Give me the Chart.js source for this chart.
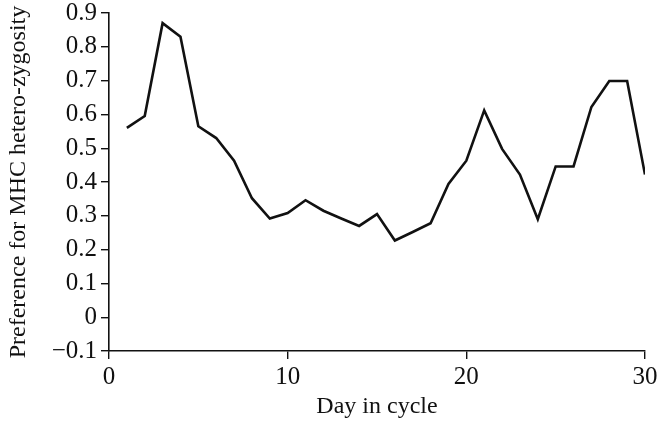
<!DOCTYPE html>
<html>
<head>
<meta charset="utf-8">
<script src="https://cdn.jsdelivr.net/npm/chart.js@4/dist/chart.umd.min.js"></script>
<style>
  html, body { margin: 0; padding: 0; background: #fff; }
  #wrap { width: 660px; height: 421px; }
</style>
</head>
<body>
<div id="wrap"><canvas id="c" width="660" height="421"></canvas></div>
<script>
// Day of the menstrual cycle
const days = [1, 2, 3, 4, 5, 6, 7, 8, 9, 10, 11, 12, 13, 14, 15,
              16, 17, 18, 19, 20, 21, 22, 23, 24, 25, 26, 27, 28, 29, 30];
// Preference for MHC heterozygosity on each day
const preference = [0.56, 0.595, 0.87, 0.83, 0.565, 0.53, 0.463, 0.352, 0.292, 0.308,
                    0.346, 0.315, 0.292, 0.27, 0.305, 0.227, 0.252, 0.278, 0.394, 0.463,
                    0.612, 0.498, 0.422, 0.29, 0.446, 0.446, 0.622, 0.699, 0.699, 0.422];
const xTicks = [0, 10, 20, 30];
const yTicks = [-0.1, 0, 0.1, 0.2, 0.3, 0.4, 0.5, 0.6, 0.7, 0.8, 0.9];

const FONT = "'Liberation Serif', 'DejaVu Serif', serif";
const INK = '#111';

new Chart(document.getElementById('c'), {
  type: 'line',
  data: {
    datasets: [{
      data: days.map((d, i) => ({ x: d, y: preference[i] })),
      borderColor: INK,
      borderWidth: 2.6,
      borderJoinStyle: 'miter',
      pointRadius: 0,
      tension: 0,
      fill: false
    }]
  },
  options: {
    responsive: false,
    animation: false,
    layout: { padding: { top: 13, right: 15, left: 4, bottom: 0 } },
    plugins: { legend: { display: false }, tooltip: { enabled: false } },
    scales: {
      x: {
        type: 'linear',
        min: 0, max: 30,
        afterBuildTicks: s => { s.ticks = xTicks.map(v => ({ value: v })); },
        afterFit: s => { s.height = 70; s.paddingLeft = 0; s.paddingRight = 0; },
        grid: { drawOnChartArea: false, color: INK, lineWidth: 1.4, tickLength: 8 },
        border: { color: INK, width: 1.6 },
        ticks: { color: INK, font: { family: FONT, size: 25 }, padding: 3 },
        title: { display: true, text: 'Day in cycle', color: INK,
                 font: { family: FONT, size: 24 }, padding: { top: 4, bottom: 0 } }
      },
      y: {
        type: 'linear',
        min: -0.1, max: 0.9,
        afterBuildTicks: s => { s.ticks = yTicks.map(v => ({ value: v })); },
        afterFit: s => { s.width = 105; s.paddingTop = 0; s.paddingBottom = 0; },
        grid: { drawOnChartArea: false, color: INK, lineWidth: 1.4, tickLength: 8 },
        border: { color: INK, width: 1.6 },
        ticks: {
          color: INK, font: { family: FONT, size: 25 }, padding: 4,
          callback: v => {
            const r = Math.round(v * 10) / 10;
            if (r === 0) return '0';
            return r < 0 ? '\u2212' + Math.abs(r).toFixed(1) : r.toFixed(1);
          }
        },
        title: { display: true, text: 'Preference for MHC hetero-zygosity', color: INK,
                 font: { family: FONT, size: 24 }, padding: { top: 0, bottom: 0 } }
      }
    }
  }
});
</script>
</body>
</html>
